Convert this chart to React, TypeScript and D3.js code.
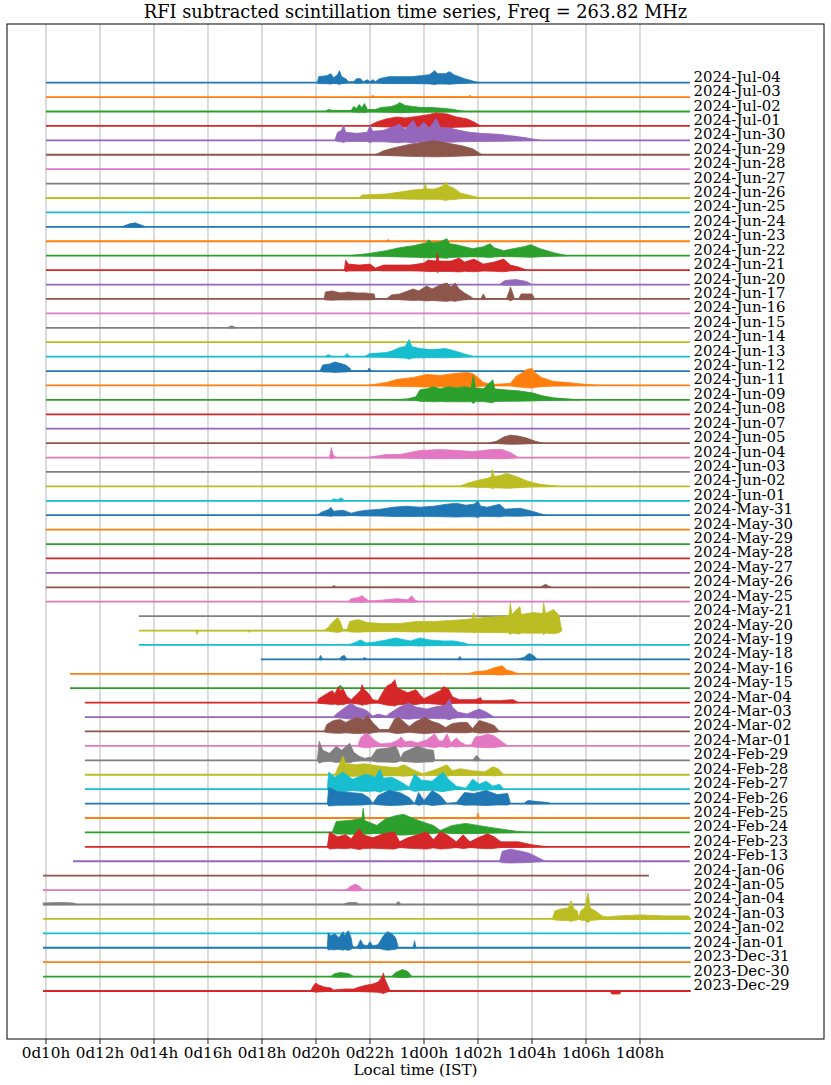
import React from "react";
import * as d3 from "d3";

const TITLE = "RFI subtracted scintillation time series, Freq = 263.82 MHz";
const X_LABEL = "Local time (IST)";
const TICK_HOURS = [10, 12, 14, 16, 18, 20, 22, 24, 26, 28, 30, 32];
const TICK_LABELS = ["0d10h", "0d12h", "0d14h", "0d16h", "0d18h", "0d20h", "0d22h", "1d00h", "1d02h", "1d04h", "1d06h", "1d08h"];

const DATES = [
  "2024-Jul-04", "2024-Jul-03", "2024-Jul-02", "2024-Jul-01", "2024-Jun-30", "2024-Jun-29", "2024-Jun-28", "2024-Jun-27",
  "2024-Jun-26", "2024-Jun-25", "2024-Jun-24", "2024-Jun-23", "2024-Jun-22", "2024-Jun-21", "2024-Jun-20", "2024-Jun-17",
  "2024-Jun-16", "2024-Jun-15", "2024-Jun-14", "2024-Jun-13", "2024-Jun-12", "2024-Jun-11", "2024-Jun-09", "2024-Jun-08",
  "2024-Jun-07", "2024-Jun-05", "2024-Jun-04", "2024-Jun-03", "2024-Jun-02", "2024-Jun-01", "2024-May-31", "2024-May-30",
  "2024-May-29", "2024-May-28", "2024-May-27", "2024-May-26", "2024-May-25", "2024-May-21", "2024-May-20", "2024-May-19",
  "2024-May-18", "2024-May-16", "2024-May-15", "2024-Mar-04", "2024-Mar-03", "2024-Mar-02", "2024-Mar-01", "2024-Feb-29",
  "2024-Feb-28", "2024-Feb-27", "2024-Feb-26", "2024-Feb-25", "2024-Feb-24", "2024-Feb-23", "2024-Feb-13", "2024-Jan-06",
  "2024-Jan-05", "2024-Jan-04", "2024-Jan-03", "2024-Jan-02", "2024-Jan-01", "2023-Dec-31", "2023-Dec-30", "2023-Dec-29",
];

// observation start / end (hours since 0d00h local)
const START_H = [
  10, 10, 10, 10, 10, 10, 10, 10, 10, 10, 10, 10, 10, 10, 10, 10,
  10, 10, 10, 10, 10, 10, 10, 10, 10, 10, 10, 10, 10, 10, 10, 10,
  10, 10, 10, 10, 10, 13.44, 13.44, 13.44, 17.96, 10.89, 10.89, 11.44, 11.44, 11.44,
  11.44, 11.44, 11.44, 11.44, 11.44, 11.44, 11.44, 11.44, 11.0, 9.89,
  9.89, 9.89, 9.89, 9.89, 9.89, 9.89, 9.89, 9.89,
];
const END_H = [
  33.85, 33.85, 33.85, 33.85, 33.85, 33.85, 33.85, 33.85, 33.85, 33.85, 33.85, 33.85, 33.85, 33.85, 33.85, 33.85,
  33.85, 33.85, 33.85, 33.85, 33.85, 33.85, 33.85, 33.85, 33.85, 33.85, 33.85, 33.85, 33.85, 33.85, 33.85, 33.85,
  33.85, 33.85, 33.85, 33.85, 33.85, 33.85, 29.1, 33.85, 33.85, 33.85, 33.85, 33.85, 33.85, 33.85,
  33.85, 33.85, 33.85, 33.85, 33.85, 33.85, 33.85, 33.85, 33.85, 32.33,
  33.88, 33.88, 33.88, 33.88, 33.88, 33.88, 33.88, 33.88,
];

// scintillation envelope knots per day: [hour, intensity]
const BURSTS: [number, number][][] = [
  /* Jul-04 */ [[20.05,0],[20.1,6],[20.4,7],[20.55,9],[20.65,5],[20.8,8],[20.87,12],[20.95,6],[21.1,4],[21.2,1],[21.4,1],[21.5,4],[21.65,4],[21.75,1],[21.9,3],[22.0,1],[22.1,3],[22.2,1],[22.35,4],[22.7,6],[23.1,6],[23.5,6],[23.9,7],[24.2,8],[24.4,12],[24.5,9],[24.8,9],[24.95,11],[25.1,8],[25.5,4],[25.9,1],[26.1,0]],
  /* Jul-03 */ [[22.05,0],[22.1,2],[22.15,0],[25.65,0],[25.7,2],[25.75,0]],
  /* Jul-02 */ [[20.35,0],[20.45,2],[20.65,1],[21.3,1],[21.4,5],[21.5,3],[21.6,7],[21.7,4],[21.8,8],[21.9,2],[22.2,2],[22.4,4],[22.8,5],[23.0,7],[23.1,9],[23.3,6],[23.6,5],[23.9,4],[24.3,4],[24.8,3],[25.1,2],[25.5,0]],
  /* Jul-01 */ [[21.95,0],[22.25,4],[22.6,7],[23.0,9],[23.3,8],[23.6,9],[24.1,11],[24.45,13],[24.85,12],[25.2,9],[25.6,7],[25.85,4],[26.1,0]],
  /* Jun-30 */ [[20.7,0],[20.8,8],[20.95,10],[21.02,15],[21.1,8],[21.5,7],[21.9,8],[22.0,15],[22.1,9],[22.5,10],[22.8,13],[23.1,16],[23.3,11],[23.6,20],[23.75,12],[24.0,18],[24.2,12],[24.45,22],[24.6,13],[25.0,12],[25.3,10],[25.7,8],[26.1,7],[26.8,6],[27.4,4],[27.9,2],[28.3,0]],
  /* Jun-29 */ [[22.2,0],[22.5,4],[22.9,7],[23.4,10],[23.9,12],[24.35,14],[24.6,13],[25.0,11],[25.4,9],[25.8,6],[26.15,0]],
  /* Jun-28 */ [],
  /* Jun-27 */ [],
  /* Jun-26 */ [[21.6,0],[21.7,3],[22.6,4],[23.1,6],[23.6,8],[24.0,9],[24.05,14],[24.1,9],[24.4,9],[24.7,12],[24.8,16],[24.9,12],[25.1,10],[25.35,5],[25.8,2],[26.1,0]],
  /* Jun-25 */ [],
  /* Jun-24 */ [[12.8,0],[13.1,3],[13.3,4],[13.5,2],[13.7,0]],
  /* Jun-23 */ [[22.62,0],[22.68,2],[22.74,0]],
  /* Jun-22 */ [[21.2,0],[21.9,2],[22.6,5],[23.1,8],[23.6,10],[24.1,13],[24.17,16],[24.3,13],[24.6,14],[24.85,17],[24.95,12],[25.2,11],[25.8,7],[26.2,9],[26.45,12],[26.6,8],[26.95,5],[27.3,7],[27.7,9],[27.95,11],[28.3,7],[28.8,3],[29.3,0]],
  /* Jun-21 */ [[21.05,0],[21.1,10],[21.2,6],[21.6,5],[22.0,6],[22.2,2],[22.5,5],[23.0,5],[23.5,5],[24.0,7],[24.15,10],[24.45,9],[24.5,17],[24.55,9],[25.0,9],[25.3,12],[25.5,8],[25.85,11],[26.2,6],[26.6,8],[26.95,11],[27.2,5],[27.5,3],[27.8,0]],
  /* Jun-20 */ [[26.8,0],[27.0,4],[27.4,5],[27.8,3],[28.0,0]],
  /* Jun-17 */ [[20.3,0],[20.35,7],[20.6,8],[20.9,6],[21.2,7],[21.5,6],[21.8,6],[22.15,5],[22.2,0],[22.6,0],[22.8,4],[23.1,5],[23.4,8],[23.6,10],[23.8,8],[24.1,13],[24.3,10],[24.6,14],[24.85,16],[25.0,12],[25.15,16],[25.3,10],[25.5,6],[25.75,2],[25.85,0],[26.1,0],[26.2,5],[26.3,0],[27.05,0],[27.15,7],[27.2,12],[27.27,7],[27.35,0],[27.5,0],[27.6,5],[28.0,5],[28.1,0]],
  /* Jun-16 */ [],
  /* Jun-15 */ [[16.7,0],[16.88,2],[17.05,0]],
  /* Jun-14 */ [],
  /* Jun-13 */ [[20.35,0],[20.45,2],[20.6,0],[21.05,0],[21.15,3],[21.25,0],[21.8,0],[22.0,3],[22.6,4],[22.85,6],[23.1,9],[23.3,10],[23.45,17],[23.55,10],[23.85,8],[24.3,7],[24.8,8],[25.1,6],[25.45,3],[25.85,0]],
  /* Jun-12 */ [[20.15,0],[20.25,6],[20.5,7],[20.7,9],[20.85,8],[21.1,6],[21.25,3],[21.3,0],[21.9,0],[21.97,3],[22.05,0]],
  /* Jun-11 */ [[21.9,0],[22.6,3],[23.0,6],[23.6,8],[24.1,11],[24.6,10],[25.1,12],[25.6,13],[25.8,12],[26.0,8],[26.2,3],[26.5,1],[27.2,2],[27.4,9],[27.6,12],[27.8,16],[28.0,17],[28.15,12],[28.35,8],[28.8,4],[29.3,3],[30.0,1],[30.5,0]],
  /* Jun-09 */ [[22.9,0],[23.4,1],[23.7,3],[23.85,10],[24.1,11],[24.35,13],[24.6,11],[24.9,13],[25.2,12],[25.5,13],[25.75,12],[25.83,25],[25.9,12],[26.2,11],[26.55,20],[26.62,11],[27.0,10],[27.5,9],[28.0,7],[28.4,4],[28.8,2],[29.3,1],[29.8,0]],
  /* Jun-08 */ [],
  /* Jun-07 */ [],
  /* Jun-05 */ [[26.4,0],[26.7,2],[26.95,6],[27.2,8],[27.5,7],[27.8,5],[28.1,2],[28.4,0]],
  /* Jun-04 */ [[20.5,0],[20.57,10],[20.63,3],[20.75,0],[21.9,0],[22.6,3],[23.1,3],[23.85,7],[24.6,8],[25.3,7],[25.8,6],[26.5,8],[26.9,8],[27.2,5],[27.5,0]],
  /* Jun-03 */ [],
  /* Jun-02 */ [[23.95,0],[24.0,2],[24.05,0],[25.3,0],[25.6,3],[26.0,6],[26.35,8],[26.5,10],[26.53,17],[26.6,10],[26.85,11],[27.05,13],[27.3,11],[27.5,9],[27.85,5],[28.3,2],[29.0,0]],
  /* Jun-01 */ [[20.55,0],[20.65,2],[20.8,1],[20.95,3],[21.05,0]],
  /* May-31 */ [[20.05,0],[20.2,3],[20.5,6],[20.55,8],[20.65,4],[21.0,5],[21.3,2],[21.6,4],[21.9,5],[22.4,6],[22.85,8],[23.35,9],[23.85,8],[24.35,9],[24.85,11],[25.2,12],[25.55,10],[25.85,11],[26.0,14],[26.1,9],[26.35,8],[26.8,11],[27.0,6],[27.55,7],[28.0,4],[28.5,0]],
  /* May-30 */ [],
  /* May-29 */ [],
  /* May-28 */ [],
  /* May-27 */ [],
  /* May-26 */ [[20.6,0],[20.67,2],[20.74,0],[28.3,0],[28.5,3],[28.7,0]],
  /* May-25 */ [[21.2,0],[21.3,3],[21.55,4],[21.7,6],[21.8,4],[21.95,1],[22.2,1],[22.6,2],[23.0,3],[23.4,2],[23.55,6],[23.65,2],[23.8,0]],
  /* May-21 */ [],
  /* May-20 */ [[15.55,0],[15.6,-4],[15.65,0],[17.5,0],[17.53,-2],[17.56,0],[20.3,0],[20.45,3],[20.6,8],[20.8,13],[20.9,9],[21.0,1],[21.15,1],[21.25,9],[21.55,11],[21.9,8],[22.5,7],[23.1,7],[23.7,9],[24.35,9],[24.95,10],[25.55,11],[25.8,12],[25.83,18],[25.9,12],[26.2,13],[26.8,14],[27.15,15],[27.2,28],[27.25,16],[27.55,24],[27.6,16],[28.05,18],[28.4,17],[28.43,28],[28.5,17],[28.8,21],[29.0,15],[29.1,0]],
  /* May-19 */ [[21.2,0],[21.5,3],[21.65,5],[21.85,2],[22.2,3],[22.6,5],[22.95,7],[23.3,5],[23.5,4],[23.85,7],[24.2,5],[24.7,4],[25.1,4],[25.5,2],[25.7,0]],
  /* May-18 */ [[20.1,0],[20.17,4],[20.25,0],[20.85,0],[20.95,3],[21.05,4],[21.15,0],[21.7,0],[21.8,2],[21.9,0],[25.25,0],[25.33,3],[25.4,0],[27.4,0],[27.7,2],[27.9,6],[28.05,4],[28.2,0]],
  /* May-16 */ [[25.6,0],[25.9,2],[26.3,3],[26.6,6],[26.9,8],[27.05,4],[27.3,2],[27.5,0]],
  /* May-15 */ [[20.8,0],[20.9,3],[21.0,0]],
  /* Mar-04 */ [[20.05,0],[20.1,4],[20.4,9],[20.6,12],[20.7,9],[20.83,16],[20.9,12],[21.0,14],[21.15,6],[21.3,3],[21.5,8],[21.65,12],[21.7,18],[21.8,13],[21.95,9],[22.1,3],[22.3,2],[22.55,14],[22.65,17],[22.8,19],[22.92,23],[23.0,15],[23.15,13],[23.4,10],[23.7,13],[23.85,8],[24.0,4],[24.3,8],[24.6,12],[24.72,16],[24.9,14],[25.05,6],[25.3,3],[25.9,3],[26.1,5],[26.15,2],[26.8,2],[27.3,3],[27.5,0]],
  /* Mar-03 */ [[20.65,0],[20.75,3],[21.0,8],[21.15,11],[21.3,14],[21.5,10],[21.75,8],[21.9,6],[22.1,1],[22.3,3],[22.6,1],[22.8,5],[23.1,10],[23.45,14],[23.7,10],[24.1,8],[24.4,10],[24.8,12],[24.95,18],[25.05,10],[25.25,5],[25.6,3],[25.85,6],[26.05,8],[26.3,5],[26.6,0]],
  /* Mar-02 */ [[20.3,0],[20.4,7],[20.65,11],[20.9,12],[21.1,9],[21.5,14],[21.75,12],[21.9,16],[22.1,9],[22.35,2],[22.7,2],[22.9,12],[23.05,14],[23.2,11],[23.45,5],[23.7,10],[24.05,14],[24.3,10],[24.55,8],[24.8,4],[25.05,8],[25.35,9],[25.6,9],[25.8,3],[26.05,11],[26.3,9],[26.6,6],[26.8,0]],
  /* Mar-01 */ [[21.55,0],[21.65,8],[21.85,13],[22.0,10],[22.2,5],[22.4,2],[22.8,3],[23.05,6],[23.15,9],[23.3,4],[23.5,5],[23.75,3],[24.1,6],[24.4,12],[24.55,5],[24.7,5],[24.85,12],[25.0,3],[25.2,8],[25.35,4],[25.55,1],[25.75,1],[25.9,9],[26.15,10],[26.35,12],[26.6,10],[26.85,5],[27.1,0]],
  /* Feb-29 */ [[20.05,0],[20.12,19],[20.25,10],[20.5,7],[20.75,14],[20.95,10],[21.25,17],[21.4,8],[21.6,4],[21.8,2],[22.05,3],[22.25,11],[22.6,12],[22.95,14],[23.05,9],[23.12,2],[23.25,8],[23.5,11],[23.75,14],[24.1,11],[24.35,10],[24.4,0],[25.8,0],[25.95,5],[26.1,0]],
  /* Feb-28 */ [[20.7,0],[20.85,9],[21.0,19],[21.1,11],[21.5,10],[21.8,11],[22.25,9],[22.6,8],[23.0,7],[23.25,10],[23.6,5],[23.95,1],[24.3,4],[24.6,7],[24.85,10],[25.05,4],[25.35,6],[25.8,4],[26.25,3],[26.55,8],[26.75,6],[26.95,0]],
  /* Feb-27 */ [[20.42,0],[20.47,17],[20.7,12],[21.0,17],[21.35,10],[21.85,15],[22.2,12],[22.37,20],[22.5,11],[22.8,12],[23.1,8],[23.45,2],[23.65,15],[23.9,9],[24.3,8],[24.7,17],[24.9,10],[25.2,3],[25.55,1],[25.8,10],[26.05,5],[26.3,8],[26.55,3],[26.8,5],[26.95,0]],
  /* Feb-26 */ [[20.42,0],[20.47,16],[20.8,12],[21.25,11],[21.7,10],[21.95,6],[22.1,0],[22.3,8],[22.7,13],[23.1,11],[23.45,6],[23.65,0],[23.8,11],[24.0,3],[24.3,13],[24.6,8],[24.85,0],[25.2,1],[25.5,11],[25.85,10],[26.3,13],[26.7,9],[27.1,10],[27.2,0],[27.7,0],[27.85,3],[28.2,2],[28.6,1],[28.7,0]],
  /* Feb-25 */ [[25.95,0],[26.0,5],[26.05,0]],
  /* Feb-24 */ [[20.6,0],[20.75,11],[21.25,12],[21.7,14],[21.75,24],[21.8,12],[22.25,7],[22.6,14],[23.0,17],[23.25,18],[23.6,14],[24.0,10],[24.35,7],[24.6,2],[25.05,7],[25.55,9],[26.0,7],[26.45,5],[26.95,3],[27.45,1],[28.0,0]],
  /* Feb-23 */ [[20.42,0],[20.5,15],[20.8,10],[21.1,12],[21.3,8],[21.6,18],[21.75,12],[22.1,9],[22.5,13],[22.9,15],[23.1,5],[23.4,9],[23.75,12],[24.1,15],[24.35,7],[24.6,15],[24.85,12],[25.2,5],[25.45,12],[25.7,5],[26.0,9],[26.35,13],[26.6,10],[26.85,5],[27.5,5],[28.0,2],[28.6,0]],
  /* Feb-13 */ [[26.8,0],[26.9,10],[27.2,12],[27.6,10],[27.9,8],[28.2,4],[28.5,0]],
  /* Jan-06 */ [],
  /* Jan-05 */ [[21.1,0],[21.3,4],[21.45,6],[21.6,4],[21.75,0]],
  /* Jan-04 */ [[9.89,1.5],[10.5,2],[11.0,1.5],[11.15,0],[21.0,0],[21.2,2],[21.5,2],[21.6,0],[22.95,0],[23.05,3],[23.15,0]],
  /* Jan-03 */ [[28.75,0],[28.85,8],[29.1,10],[29.35,11],[29.45,18],[29.55,10],[29.68,8],[29.73,1],[29.8,8],[29.95,11],[30.08,26],[30.15,11],[30.35,8],[30.6,3],[30.8,2],[31.2,3],[32.0,4],[33.0,3],[33.8,3],[33.88,0]],
  /* Jan-02 */ [],
  /* Jan-01 */ [[20.42,0],[20.45,15],[20.55,12],[20.7,14],[20.85,10],[21.0,16],[21.05,12],[21.2,17],[21.3,10],[21.35,2],[21.45,0],[21.55,2],[21.65,8],[21.75,3],[21.9,2],[22.0,6],[22.1,2],[22.3,3],[22.5,12],[22.65,16],[22.8,14],[22.95,10],[23.05,0],[23.6,0],[23.65,7],[23.7,0]],
  /* Dec-31 */ [],
  /* Dec-30 */ [[20.55,0],[20.7,3],[20.9,4],[21.2,3],[21.4,0],[22.8,0],[22.95,4],[23.2,7],[23.4,5],[23.55,0]],
  /* Dec-29 */ [[19.8,0],[19.9,5],[20.0,8],[20.1,6],[20.3,4],[20.55,3],[20.65,1],[21.1,2],[21.4,2],[21.6,4],[21.9,6],[22.1,7],[22.3,9],[22.45,14],[22.5,18],[22.55,12],[22.65,6],[22.75,0],[30.9,0],[30.95,-3],[31.25,-3],[31.3,0]],
];

const COLORS = ["#1f77b4", "#ff7f0e", "#2ca02c", "#d62728", "#9467bd", "#8c564b", "#e377c2", "#7f7f7f", "#bcbd22", "#17becf"];

const W = 831;
const H = 1085;
const M = { left: 7, right: 824, top: 24, bottom: 1039 };
const OFFSET = 14.42;
const FONT = "'DejaVu Serif', serif";

export default function App() {
  const n = DATES.length;
  const x = d3.scaleLinear().domain([8.556, 38.815]).range([M.left, M.right]);
  const y = d3.scaleLinear().domain([-3.33 * OFFSET, (n - 1 + 4.07) * OFFSET]).range([M.bottom, M.top]);
  const labelHour = 33.98;

  const series = DATES.map((d, i) => {
    const base = (n - 1 - i) * OFFSET;
    const knots = BURSTS[i];
    const line = d3.line<[number, number]>().x((p) => x(p[0])).y((p) => y(base + p[1]));
    const area = d3
      .area<[number, number]>()
      .x((p) => x(p[0]))
      .y0((p) => y(base + Math.min(0, p[1]) - 0.15 * Math.max(0, p[1])))
      .y1((p) => y(base + Math.max(0, p[1])));
    const baseLine = line([[START_H[i], 0], [END_H[i], 0]]) || "";
    const areaPath = knots.length ? area(knots) || "" : "";
    return { d, i, base, baseLine, areaPath, color: COLORS[i % 10] };
  });

  return (
    <svg width={W} height={H} style={{ position: "absolute", left: 0, top: 0, background: "#fff" }} fontFamily={FONT}>
      <rect x={0} y={0} width={W} height={H} fill="#fff" />
      <text x={(M.left + M.right) / 2} y={18} textAnchor="middle" fontSize={17.8} fill="#000">{TITLE}</text>
      {TICK_HOURS.map((h) => (
        <line key={"g" + h} x1={x(h)} x2={x(h)} y1={M.top} y2={M.bottom} stroke="#b0b0b0" strokeWidth={0.9} />
      ))}
      {series.map((s) => (
        <g key={s.d}>
          <path d={s.baseLine} fill="none" stroke={s.color} strokeWidth={1.8} />
          {s.areaPath && <path d={s.areaPath} fill={s.color} stroke={s.color} strokeWidth={0.8} strokeLinejoin="miter" />}
        </g>
      ))}
      {series.map((s) => (
        <text key={"l" + s.d} x={x(labelHour)} y={y(s.base) - 1} fontSize={14.9} fill="#000">{s.d}</text>
      ))}
      <rect x={M.left} y={M.top} width={M.right - M.left} height={M.bottom - M.top} fill="none" stroke="#000" strokeWidth={1} />
      {TICK_HOURS.map((h, k) => (
        <g key={"t" + h}>
          <line x1={x(h)} x2={x(h)} y1={M.bottom} y2={M.bottom + 5} stroke="#000" strokeWidth={0.9} />
          <text x={x(h)} y={M.bottom + 19} textAnchor="middle" fontSize={15.2} fill="#000">{TICK_LABELS[k]}</text>
        </g>
      ))}
      <text x={(M.left + M.right) / 2} y={1075} textAnchor="middle" fontSize={15.2} fill="#000">{X_LABEL}</text>
    </svg>
  );
}
